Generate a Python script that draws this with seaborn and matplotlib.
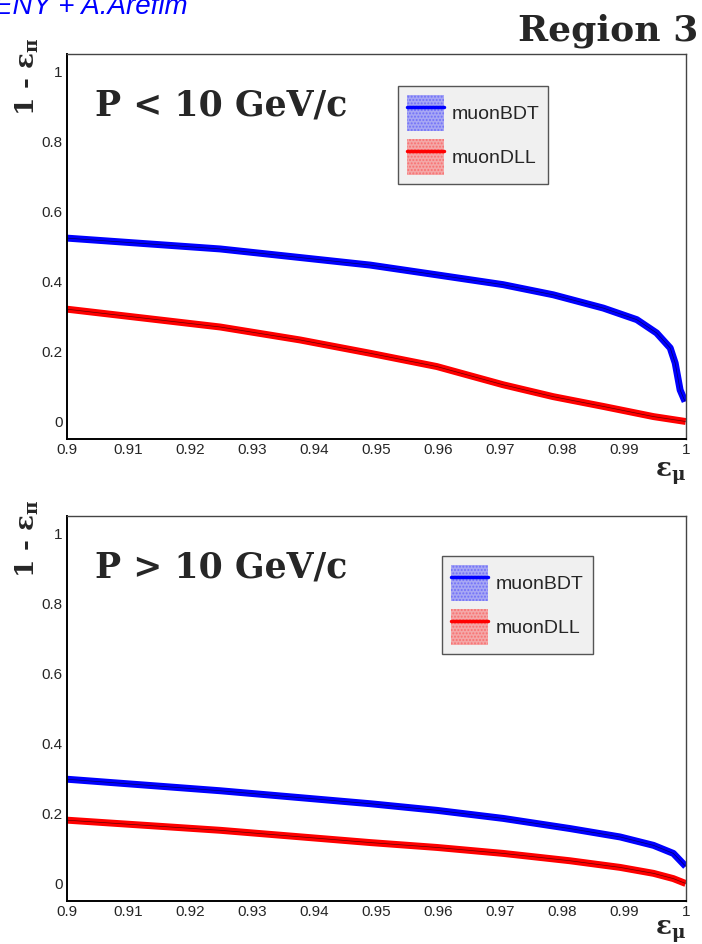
import seaborn as sns
import matplotlib.pyplot as plt
import pandas as pd
from matplotlib.patches import Patch
from matplotlib.lines import Line2D
from matplotlib.ticker import MultipleLocator, FixedLocator

# P < 10 GeV/c
low_bdt_x = [0.9, 0.9248, 0.949, 0.9598, 0.9705, 0.9786, 0.9867, 0.9921, 0.9953, 0.9975, 0.9983, 0.9991, 0.9999]
low_bdt_y = [0.524, 0.493, 0.447, 0.419, 0.391, 0.362, 0.324, 0.291, 0.253, 0.21, 0.167, 0.09, 0.057]
low_dll_x = [0.9, 0.9248, 0.9377, 0.949, 0.9598, 0.9705, 0.9786, 0.9867, 0.9948, 1.0]
low_dll_y = [0.321, 0.27, 0.233, 0.195, 0.157, 0.105, 0.071, 0.043, 0.014, 0.0]

# P > 10 GeV/c
high_x = [0.9, 0.9248, 0.949, 0.9598, 0.9705, 0.9813, 0.9894, 0.9948, 0.998, 1.0]
high_bdt_y = [0.298, 0.265, 0.228, 0.209, 0.186, 0.157, 0.133, 0.109, 0.086, 0.049]
high_dll_y = [0.181, 0.152, 0.117, 0.103, 0.086, 0.065, 0.046, 0.029, 0.014, 0.0]

panel_titles = ['P < 10 GeV/c', 'P > 10 GeV/c']
series_names = ['muonBDT', 'muonDLL']
series_colors = ['#0000ff', '#ff0000']
x_ticks = [0.9, 0.91, 0.92, 0.93, 0.94, 0.95, 0.96, 0.97, 0.98, 0.99, 1.0]
x_labels = ['0.9', '0.91', '0.92', '0.93', '0.94', '0.95', '0.96', '0.97', '0.98', '0.99', '1']
y_ticks = [0, 0.2, 0.4, 0.6, 0.8, 1.0]
y_labels = ['0', '0.2', '0.4', '0.6', '0.8', '1']

sns.set_style('white')
plt.rcParams['font.family'] = ['Liberation Sans', 'DejaVu Sans']
plt.rcParams['mathtext.fontset'] = 'custom'
plt.rcParams['mathtext.rm'] = 'DejaVu Serif:bold'
plt.rcParams['mathtext.it'] = 'DejaVu Serif:bold'
plt.rcParams['mathtext.bf'] = 'DejaVu Serif:bold'

serif_bold = dict(family='DejaVu Serif', weight='bold')

W, H = 702, 944
fig = plt.figure(figsize=(W / 100, H / 100), dpi=100)
ax_top = fig.add_axes([66.7 / W, 1 - 439 / H, 619 / W, 385 / H])
ax_bot = fig.add_axes([66.7 / W, 1 - 901 / H, 619 / W, 385 / H])

panels = [
    (ax_top, [(low_bdt_x, low_bdt_y), (low_dll_x, low_dll_y)], (0.535, 0.917)),
    (ax_bot, [(high_x, high_bdt_y), (high_x, high_dll_y)], (0.607, 0.896)),
]

for i, (ax, curves, leg_pos) in enumerate(panels):
    for (xs, ys), name, col in zip(curves, series_names, series_colors):
        df = pd.DataFrame({'eff': xs, 'rej': ys})
        sns.lineplot(data=df, x='eff', y='rej', color=col, linewidth=5, ax=ax,
                     solid_capstyle='butt', sort=True)
        ax.plot(xs, ys, color='black', linewidth=0.5, alpha=0.6)

    ax.set_xlim(0.9, 1.0)
    ax.set_ylim(-0.05, 1.05)
    ax.set_xlabel('')
    ax.set_ylabel('')
    ax.xaxis.set_major_locator(FixedLocator(x_ticks))
    ax.set_xticklabels(x_labels)
    ax.xaxis.set_minor_locator(MultipleLocator(0.002))
    ax.yaxis.set_major_locator(FixedLocator(y_ticks))
    ax.set_yticklabels(y_labels)
    ax.yaxis.set_minor_locator(MultipleLocator(0.05))
    ax.tick_params(axis='both', which='both', direction='in', top=False, right=False,
                   labelsize=11, width=1, color='black')
    ax.tick_params(axis='y', which='major', length=13, pad=3)
    ax.tick_params(axis='y', which='minor', length=6.5)
    ax.tick_params(axis='x', which='major', length=8, pad=3)
    ax.tick_params(axis='x', which='minor', length=4.3)
    for side in ['left', 'bottom']:
        ax.spines[side].set_linewidth(1.4)
        ax.spines[side].set_color('black')
    for side in ['top', 'right']:
        ax.spines[side].set_linewidth(1.0)
        ax.spines[side].set_color('#444444')

    ax.text(0.9045, 0.873, panel_titles[i], fontsize=25, va='baseline', ha='left',
            **serif_bold)

    handles = []
    for col in series_colors:
        patch = Patch(facecolor=col, alpha=0.3, hatch='.....', edgecolor=col, linewidth=0)
        line = Line2D([], [], color=col, linewidth=2.5)
        handles.append((patch, line))
    leg = ax.legend(handles, series_names, loc='upper left', bbox_to_anchor=leg_pos,
                    fontsize=14, frameon=True, fancybox=False, handlelength=1.9,
                    handleheight=2.5, borderpad=0.45, labelspacing=0.4,
                    handletextpad=0.4, borderaxespad=0)
    leg.get_frame().set_facecolor('#f0f0f0')
    leg.get_frame().set_edgecolor('#555555')
    leg.get_frame().set_linewidth(1.0)
    leg.get_frame().set_alpha(1)

# axis titles
ylab = r'1 - $\mathbf{\varepsilon_{\pi}}$'
xlab = r'$\mathbf{\varepsilon_{\mu}}$'
fig.text(27 / W, 1 - 37 / H, ylab, rotation=90, ha='center', va='top', fontsize=19,
         **serif_bold)
fig.text(27 / W, 1 - 499 / H, ylab, rotation=90, ha='center', va='top', fontsize=19,
         **serif_bold)
fig.text(671 / W, 1 - 477 / H, xlab, ha='center', va='baseline', fontsize=19)
fig.text(671 / W, 1 - 935 / H, xlab, ha='center', va='baseline', fontsize=19)

fig.text(698 / W, 1 - 41 / H, 'Region 3', ha='right', va='baseline', fontsize=26,
         **serif_bold)
fig.text(-0.008, 1 - 14 / H, 'ENY + A.Arefim', ha='left', va='baseline',
         fontsize=20, style='italic', color='#0000ff')

fig.savefig('out.png', dpi=100)
